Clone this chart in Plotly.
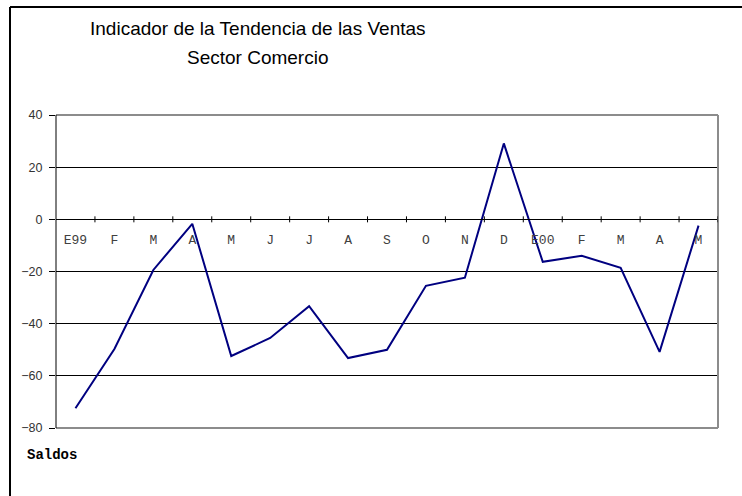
import plotly.graph_objects as go

months = ["E99", "F", "M", "A", "M", "J", "J", "A", "S", "O", "N", "D",
          "E00", "F", "M", "A", "M"]
saldos = [-72.4, -49.7, -19.4, -1.7, -52.4, -45.5, -33.3, -53.2, -50.0,
          -25.5, -22.4, 29.1, -16.3, -14.0, -18.6, -50.8, -2.4]
y_ticks = [40, 20, 0, -20, -40, -60, -80]
title_lines = ["Indicador de la Tendencia de las Ventas", "Sector Comercio"]

W, H = 742, 496
L, R, T, B = 56, 718, 115, 428

def px(x):
    return (x - L) / (R - L)

def py(y):
    return (B - y) / (B - T)

x_idx = list(range(len(months)))

fig = go.Figure()
fig.add_trace(go.Scatter(
    x=x_idx, y=saldos, mode="lines",
    line=dict(color="#000080", width=2),
    hoverinfo="skip", showlegend=False,
))

fig.update_layout(
    width=W, height=H,
    margin=dict(l=L, r=W - R, t=T, b=H - B, pad=0),
    paper_bgcolor="white", plot_bgcolor="white",
    showlegend=False,
    xaxis=dict(
        range=[-0.5, len(months) - 0.5],
        tickmode="array", tickvals=x_idx, ticktext=months,
        anchor="free", position=2 / 3,
        showline=True, linecolor="black", linewidth=1,
        showgrid=False, zeroline=False,
        ticks="", tickfont=dict(family="Courier New, Liberation Mono, monospace",
                                size=13, color="#404040"),
        ticklabelstandoff=8,
    ),
    yaxis=dict(
        range=[-80, 40], tickmode="array", tickvals=y_ticks,
        showgrid=True, gridcolor="black", gridwidth=1,
        zeroline=True, zerolinecolor="black", zerolinewidth=1,
        showline=False, ticks="outside", ticklen=6, tickcolor="black",
        tickfont=dict(family="Liberation Sans, Arial, sans-serif", size=12.5,
                      color="#333333"),
        ticklabelstandoff=4,
    ),
)

shapes = []
# gray plot-area border (top, right, bottom)
for x0, y0, x1, y1 in [(0, 1, 1, 1), (1, 0, 1, 1), (0, 0, 1, 0)]:
    shapes.append(dict(type="line", xref="paper", yref="paper",
                       x0=x0, y0=y0, x1=x1, y1=y1,
                       line=dict(color="#8c8c8c", width=2), layer="above"))
# black left axis line
shapes.append(dict(type="line", xref="paper", yref="paper",
                   x0=0, y0=0, x1=0, y1=1,
                   line=dict(color="black", width=1), layer="above"))
# category boundary ticks crossing the zero line
for i in range(1, len(months) + 1):
    shapes.append(dict(type="line", xref="x", yref="paper",
                       x0=i - 0.5, x1=i - 0.5,
                       y0=2 / 3 - 3 / (B - T), y1=2 / 3 + 3 / (B - T),
                       line=dict(color="black", width=1), layer="above"))
# outer chart frame (left and top edges visible)
shapes.append(dict(type="line", xref="paper", yref="paper",
                   x0=px(10), y0=py(7), x1=px(10), y1=py(500),
                   line=dict(color="black", width=2)))
shapes.append(dict(type="line", xref="paper", yref="paper",
                   x0=px(10), y0=py(7), x1=px(746), y1=py(7),
                   line=dict(color="black", width=2)))
fig.update_layout(shapes=shapes)

for text, yc in zip(title_lines, [28, 57]):
    fig.add_annotation(
        text=text,
        xref="paper", yref="paper", x=px(258), y=py(yc),
        xanchor="center", yanchor="middle", showarrow=False,
        font=dict(family="Liberation Sans Narrow, Arial Narrow, Liberation Sans, Arial",
                  size=19, color="black"),
    )
fig.add_annotation(
    text="<b>Saldos</b>",
    xref="paper", yref="paper", x=px(25), y=py(455),
    xanchor="left", yanchor="middle", showarrow=False,
    font=dict(family="Courier New, Liberation Mono, monospace", size=14,
              color="black"),
)

fig.write_html("out.html", config={"displayModeBar": False},
               post_script="document.body.style.margin='0';")
